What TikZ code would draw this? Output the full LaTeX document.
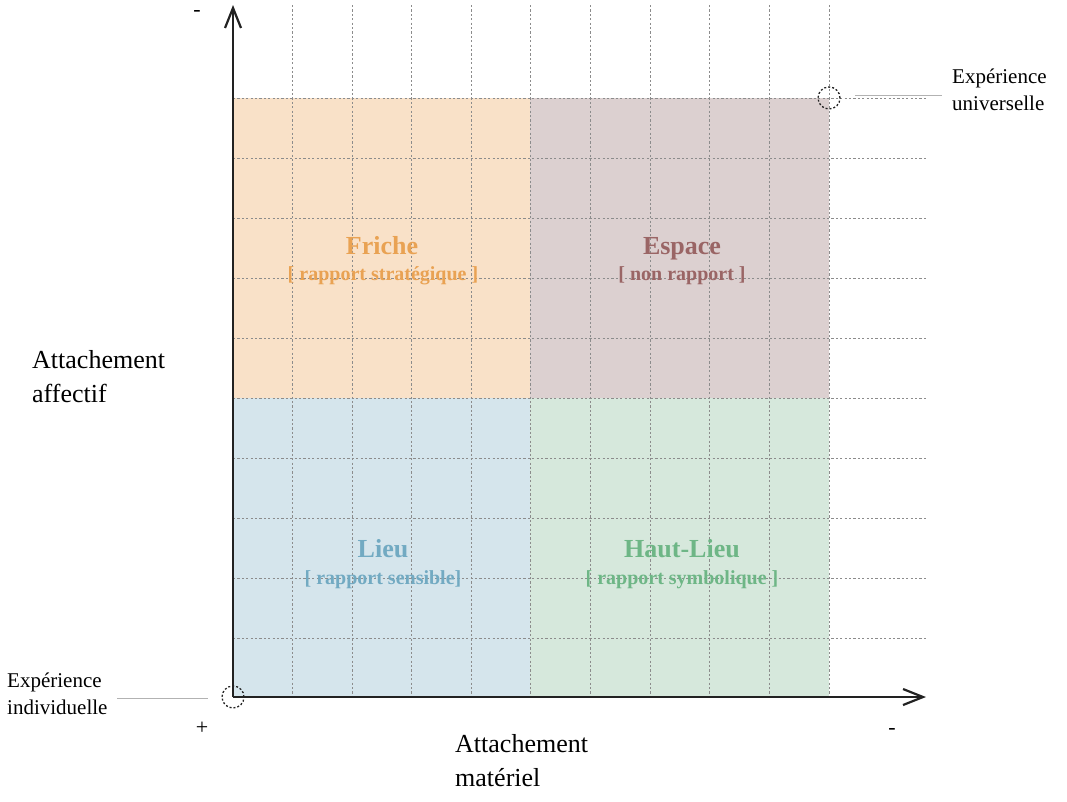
\documentclass[tikz,border=0pt]{standalone}
\usepackage{fontspec}
\setmainfont{Liberation Serif}
\usetikzlibrary{arrows.meta}
\definecolor{fricheFill}{HTML}{F9E1C8}
\definecolor{fricheText}{HTML}{E9A253}
\definecolor{espaceFill}{HTML}{DCD0D0}
\definecolor{espaceText}{HTML}{9A6565}
\definecolor{lieuFill}{HTML}{D5E5EC}
\definecolor{lieuText}{HTML}{72AAC2}
\definecolor{hautFill}{HTML}{D6E8DC}
\definecolor{hautText}{HTML}{6EB686}
\definecolor{axisInk}{HTML}{222222}
\begin{document}
\begin{tikzpicture}[x=1pt,y=-1pt,
  gridline/.style={draw=black!45,line width=0.7pt,dash pattern=on 2.2pt off 2.2pt},
  axisline/.style={draw=axisInk,line width=2.2pt,-{Straight Barb[length=20pt,width=16pt,line width=2.2pt]}},
  quadtitle/.style={font=\fontsize{26}{28}\selectfont\bfseries,anchor=base},
  quadsub/.style={font=\fontsize{20}{22}\selectfont\bfseries,anchor=base},
  axislabel/.style={font=\fontsize{26}{34}\selectfont,align=left,anchor=north west,inner sep=0pt},
  cornerlabel/.style={font=\fontsize{21}{27}\selectfont,align=left,anchor=north west,inner sep=0pt},
  signlabel/.style={font=\fontsize{22}{24}\selectfont,inner sep=0pt},
  marker/.style={draw=axisInk,line width=1.3pt,dash pattern=on 2pt off 2pt},
  leader/.style={draw=black!30,line width=0.8pt}]
\useasboundingbox (0,0) rectangle (1067,801);

% quadrant fills
\fill[fricheFill] (233,98) rectangle (530,398);
\fill[espaceFill] (530,98) rectangle (829,398);
\fill[lieuFill] (233,398) rectangle (530,697);
\fill[hautFill] (530,398) rectangle (829,697);

% dashed grid
\foreach \x in {292,352,411,471,530,590,650,709,769,829}
  \draw[gridline] (\x,5) -- (\x,697);
\foreach \y in {98,158,218,278,338,398,458,518,578,638}
  \draw[gridline] (233,\y) -- (928,\y);

% axes
\coordinate (origin) at (233,697);
\coordinate (ytop) at (233,5);
\coordinate (xend) at (926,697);
\draw[axisline] (origin) -- (ytop);
\draw[axisline] (origin) -- (xend);

% axis signs
\node[signlabel] (ysign) at (197,13) {-};
\node[signlabel] (osign) at (202,728) {+};
\node[signlabel] (xsign) at (892,731) {-};

% axis titles
\node[axislabel] (ylab) at (32,350) {Attachement\\affectif};
\node[axislabel] (xlab) at (455,734) {Attachement\\matériel};

% quadrant titles
\node[quadtitle,text=fricheText] (friche) at (382,254) {Friche};
\node[quadsub,text=fricheText] (frichesub) at (383,280) {[ rapport stratégique ]};
\node[quadtitle,text=espaceText] (espace) at (682,254) {Espace};
\node[quadsub,text=espaceText] (espacesub) at (682,280) {[ non rapport ]};
\node[quadtitle,text=lieuText] (lieu) at (383,557) {Lieu};
\node[quadsub,text=lieuText] (lieusub) at (383,584) {[ rapport sensible]};
\node[quadtitle,text=hautText] (haut) at (682,557) {Haut-Lieu};
\node[quadsub,text=hautText] (hautsub) at (682,584) {[ rapport symbolique ]};

% corner markers with labels
\node[marker,circle,minimum size=22pt,inner sep=0pt] (univ) at (829,98) {};
\node[marker,circle,minimum size=22pt,inner sep=0pt] (indiv) at (233,697) {};
\node[cornerlabel] (univlab) at (952,69) {Expérience\\universelle};
\node[cornerlabel] (indivlab) at (7,673) {Expérience\\individuelle};
\coordinate (univleadA) at (855,95);
\coordinate (univleadB) at (942,95);
\coordinate (indivleadA) at (117,698);
\coordinate (indivleadB) at (208,698);
\draw[leader] (univleadA) -- (univleadB);
\draw[leader] (indivleadA) -- (indivleadB);
\end{tikzpicture}
\end{document}
